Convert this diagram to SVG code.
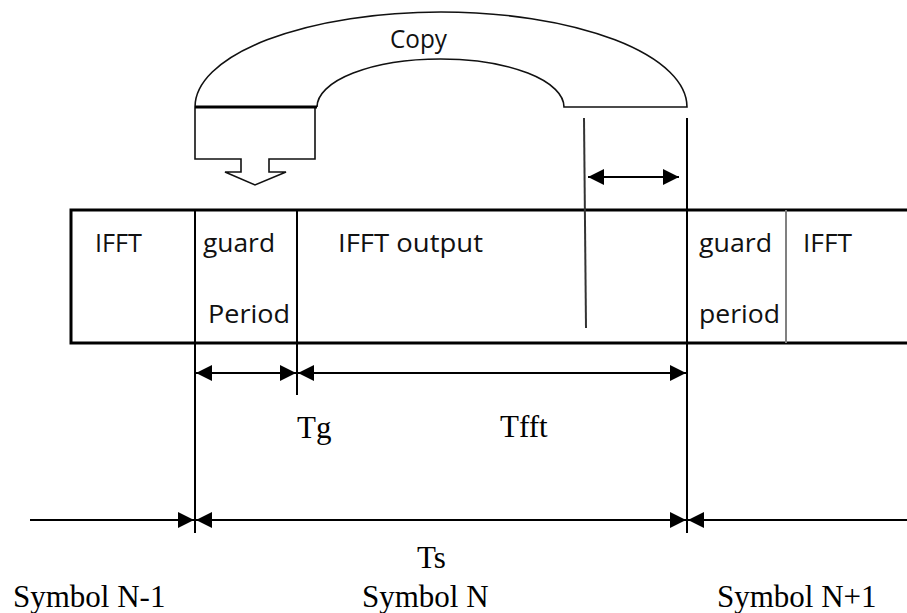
<svg xmlns="http://www.w3.org/2000/svg" width="907" height="613" viewBox="0 0 907 613">
  <style>
    .ln { stroke: #000; stroke-width: 2; fill: none; }
    .thick { stroke: #000; stroke-width: 3; fill: none; }
    .shape { stroke: #111; stroke-width: 1.6; fill: none; }
    .sans { font-family: "Open Sans", "Lato", sans-serif; font-size: 25px; fill: #111; }
    .serif { font-family: "Liberation Serif", "Times New Roman", serif; font-size: 31px; fill: #000; }
  </style>
  <defs>
    <marker id="ah" markerUnits="userSpaceOnUse" markerWidth="17" markerHeight="18" refX="16" refY="9" orient="auto-start-reverse">
      <path d="M0,1 L16,9 L0,17 Z" fill="#000"/>
    </marker>
  </defs>
  <rect width="907" height="613" fill="#fff"/>

  <g id="copy-shape">
    <path class="shape" d="M195,107 A246,95 0 0 1 687,107 H564 A123.5,48 0 0 0 317,107"/>
    <path class="shape" d="M195,107 V159 H241 V172 H225 L255,185 L286,172 H269 V159 H315 V107"/>
    <line class="thick" x1="195" y1="107" x2="317" y2="107"/>
    <text class="sans" x="390" y="48" fill="#222" textLength="57" lengthAdjust="spacingAndGlyphs">Copy</text>
  </g>

  <g id="frame">
    <path class="thick" d="M907,210 H71 V343 H907"/>
    <line class="ln" x1="297" y1="210" x2="297" y2="395"/>
    <line x1="786" y1="210" x2="786" y2="343" stroke="#808080" stroke-width="2"/>
  </g>

  <g id="cell-ifft-left">
    <text class="sans" x="95" y="252" textLength="47" lengthAdjust="spacingAndGlyphs">IFFT</text>
  </g>
  <g id="cell-guard-left">
    <text class="sans" x="203" y="252" textLength="72" lengthAdjust="spacingAndGlyphs">guard</text>
    <text class="sans" x="208" y="323" textLength="82" lengthAdjust="spacingAndGlyphs">Period</text>
  </g>
  <g id="cell-ifft-output">
    <text class="sans" x="338" y="252" textLength="145" lengthAdjust="spacingAndGlyphs">IFFT output</text>
  </g>
  <g id="cell-guard-right">
    <text class="sans" x="699" y="252" textLength="73" lengthAdjust="spacingAndGlyphs">guard</text>
    <text class="sans" x="699" y="323" textLength="81" lengthAdjust="spacingAndGlyphs">period</text>
  </g>
  <g id="cell-ifft-right">
    <text class="sans" x="803" y="252" textLength="49" lengthAdjust="spacingAndGlyphs">IFFT</text>
  </g>

  <g id="labels">
    <text class="serif" x="297" y="438">Tg</text>
    <text class="serif" x="500" y="437">Tfft</text>
    <text class="serif" x="417" y="568">Ts</text>
    <text class="serif" x="13" y="607">Symbol N-1</text>
    <text class="serif" x="362" y="607">Symbol N</text>
    <text class="serif" x="717" y="607">Symbol N+1</text>
  </g>

  <g id="connectors">
    <line class="ln" x1="195" y1="210" x2="195" y2="533"/>
    <line class="ln" x1="687" y1="118" x2="687" y2="533"/>
    <line x1="584" y1="118" x2="586" y2="328" stroke="#333" stroke-width="2"/>
    <line class="ln" x1="588" y1="177" x2="679" y2="177" marker-start="url(#ah)" marker-end="url(#ah)"/>
    <line class="ln" x1="196" y1="373" x2="296" y2="373" marker-start="url(#ah)" marker-end="url(#ah)"/>
    <line class="ln" x1="298" y1="373" x2="686" y2="373" marker-start="url(#ah)" marker-end="url(#ah)"/>
    <line class="ln" x1="30" y1="520" x2="194" y2="520" marker-end="url(#ah)"/>
    <line class="ln" x1="196" y1="520" x2="686" y2="520" marker-start="url(#ah)" marker-end="url(#ah)"/>
    <line class="ln" x1="907" y1="520" x2="688" y2="520" marker-end="url(#ah)"/>
  </g>
</svg>
